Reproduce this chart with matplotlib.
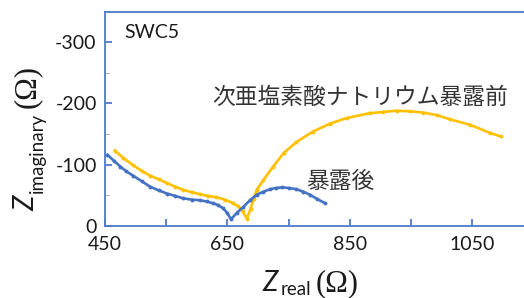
import matplotlib
matplotlib.use("Agg")
import matplotlib.pyplot as plt

# ---- data (y = -Z_imag, plotted upward) ----
before_x = [466, 480, 496, 510, 524, 538, 551, 565, 578, 592, 605, 618, 632, 646, 660, 668, 675, 682,
            688, 693, 698, 709, 725, 742, 763, 790, 818, 845, 883, 905, 927, 949, 970, 992, 1014,
            1047, 1079, 1097]
before_y = [123, 111, 99, 90, 82, 76, 70, 64, 59, 55, 52, 49, 47, 43, 37, 32, 24, 12,
            28, 44, 59, 75, 97, 119, 137, 154, 167, 176, 184, 186, 188, 187, 185, 181, 174,
            165, 152, 146]

after_x = [454, 465, 475, 485, 496, 510, 524, 538, 551, 565, 578, 592, 605, 616, 627, 635, 643, 650, 656,
           666, 676, 687, 698, 709, 720, 730, 739, 751, 763, 774, 785, 797, 810]
after_y = [116, 106, 97, 89, 82, 73, 64, 58, 53, 49, 45, 43, 42, 40, 37, 34, 29, 21, 11,
           22, 31, 42, 51, 56, 60, 62, 63, 62, 60, 56, 51, 44, 37]

ytick_vals = [0, 100, 200, 300]
ytick_labels = ["0", "-100", "-200", "-300"]
xtick_major = [450, 650, 850, 1050]
xtick_minor = [550, 750, 950]
yminor = [50, 150, 250]

label_before = "次亜塩素酸ナトリウム暴露前"
label_after = "暴露後"
sample = "SWC5"

YELLOW = "#FFC000"
BLUE = "#4472C4"
SPINE = "#4F7AC7"
TXT = "#1a1a1a"

W, H = 524, 298
fig = plt.figure(figsize=(W / 100, H / 100), dpi=100)
ax = fig.add_axes([105 / W, (H - 226) / H, 1 - 105 / W, (226 - 12) / H])
ax.set_xlim(450, 1135)
ax.set_ylim(0, 349)

ax.plot(before_x, before_y, color=YELLOW, lw=1.9, marker="o", ms=1.8, zorder=2)
ax.plot(after_x, after_y, color=BLUE, lw=1.9, marker="o", ms=1.8, zorder=3)

for s in ["left", "bottom", "top"]:
    ax.spines[s].set_color(SPINE)
    ax.spines[s].set_linewidth(1.3)
ax.spines["right"].set_visible(False)

ax.set_yticks(ytick_vals)
ax.set_yticklabels(ytick_labels)
ax.set_yticks(yminor, minor=True)
ax.set_xticks(xtick_major + xtick_minor)
ax.set_xticklabels([str(v) if v in xtick_major else "" for v in xtick_major + xtick_minor])
ax.tick_params(axis="both", which="major", direction="in", length=5, width=1.3, color=SPINE,
               labelsize=14, labelcolor=TXT, pad=6)
ax.tick_params(axis="y", which="minor", direction="in", length=3, width=0.8, color="#b0b0b0")
ax.tick_params(axis="x", which="major", pad=7)
for lab in ax.get_xticklabels() + ax.get_yticklabels():
    lab.set_family("Lato")


def px(x, y):
    return x / W, 1 - y / H


fig.text(*px(124, 38), sample, fontsize=14, family="Lato", color=TXT, va="baseline")

jp = ["Noto Sans CJK JP", "DejaVu Sans"]
fig.text(*px(212, 97), label_before, fontsize=16.4, family=jp, color="#333333", va="center", ha="left")
fig.text(*px(306, 182), label_after, fontsize=16.4, family=jp, color="#333333", va="center", ha="left")

# axis labels assembled from pieces
fig.canvas.draw()
r = fig.canvas.get_renderer()

# x label
t1 = fig.text(*px(262, 291), "Z", fontsize=20, family="Lato", style="italic", color=TXT, va="baseline")
bb = t1.get_window_extent(r)
t2 = fig.text(bb.x1 / W + 3 / W, 1 - 295 / H, "real", fontsize=13.5, family="Lato", color=TXT, va="baseline")
bb2 = t2.get_window_extent(r)
fig.text(bb2.x1 / W + 5 / W, 1 - 291 / H, "(Ω)", fontsize=22, family="Liberation Serif", color=TXT, va="baseline")

# y label (rotated)
y1 = fig.text(*px(34, 211), "Z", fontsize=20, family="Lato", style="italic", color=TXT,
              rotation=90, rotation_mode="anchor", ha="left", va="baseline")
b = y1.get_window_extent(r)
y2 = fig.text(43 / W, b.y1 / H + 3 / H, "imaginary", fontsize=13.5, family="Lato", color=TXT,
              rotation=90, rotation_mode="anchor", ha="left", va="baseline")
b2 = y2.get_window_extent(r)
fig.text(35 / W, b2.y1 / H + 5 / H, "(Ω)", fontsize=22, family="Liberation Serif", color=TXT,
         rotation=90, rotation_mode="anchor", ha="left", va="baseline")

fig.savefig("out.png", dpi=100)
